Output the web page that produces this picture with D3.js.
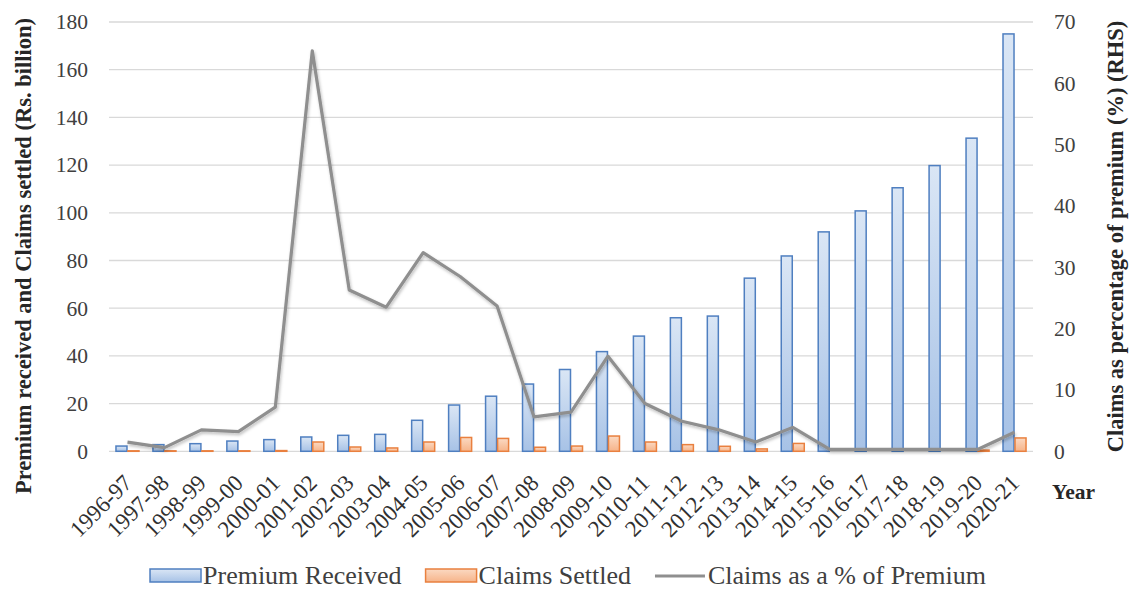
<!DOCTYPE html>
<html>
<head>
<meta charset="utf-8">
<script src="https://cdn.jsdelivr.net/npm/d3@7"></script>
<style>
  html, body { margin: 0; padding: 0; background: #ffffff; }
  svg { display: block; }
</style>
</head>
<body>
<svg id="chart" width="1133" height="591"></svg>
<script>
const years = ['1996-97','1997-98','1998-99','1999-00','2000-01','2001-02','2002-03','2003-04','2004-05','2005-06','2006-07','2007-08','2008-09','2009-10','2010-11','2011-12','2012-13','2013-14','2014-15','2015-16','2016-17','2017-18','2018-19','2019-20','2020-21'];
const premiumReceived = [2.2, 2.8, 3.2, 4.3, 4.9, 6.0, 6.7, 7.1, 13.0, 19.4, 23.1, 28.2, 34.3, 41.8, 48.3, 56.0, 56.7, 72.6, 81.9, 92.0, 100.8, 110.5, 119.8, 131.3, 175.0];
const claimsSettled = [0.2, 0.2, 0.2, 0.2, 0.3, 3.9, 1.8, 1.4, 3.9, 5.8, 5.4, 1.7, 2.2, 6.4, 3.9, 2.8, 2.1, 1.0, 3.3, 0, 0, 0, 0, 0.5, 5.6];
const claimsPct = [1.5, 0.6, 3.5, 3.2, 7.2, 65.3, 26.3, 23.5, 32.4, 28.5, 23.7, 5.6, 6.4, 15.5, 7.8, 4.9, 3.5, 1.5, 3.9, 0.3, 0.3, 0.3, 0.3, 0.3, 3.1];
const leftTicks = [0, 20, 40, 60, 80, 100, 120, 140, 160, 180];
const rightTicks = [0, 10, 20, 30, 40, 50, 60, 70];
const seriesNames = ['Premium Received', 'Claims Settled', 'Claims as a % of Premium'];
const leftTitle = 'Premium received and Claims settled (Rs. billion)';
const rightTitle = 'Claims as percentage of premium (%) (RHS)';
const xTitle = 'Year';

const svg = d3.select('#chart');
const L = 109, R = 1033, T = 22, B = 451.3;
const FONT = '"Liberation Serif", "Times New Roman", serif';

const defs = svg.append('defs');
const gb = defs.append('linearGradient').attr('id','gBlue').attr('x1',0).attr('y1',0).attr('x2',0).attr('y2',1);
gb.append('stop').attr('offset','0%').attr('stop-color','#dae6f5');
gb.append('stop').attr('offset','100%').attr('stop-color','#a7c2e6');
const go = defs.append('linearGradient').attr('id','gOrange').attr('x1',0).attr('y1',0).attr('x2',0).attr('y2',1);
go.append('stop').attr('offset','0%').attr('stop-color','#fbd9c2');
go.append('stop').attr('offset','100%').attr('stop-color','#f6b48a');
const sh = defs.append('filter').attr('id','shadow').attr('x','-10%').attr('y','-10%').attr('width','120%').attr('height','130%');
sh.append('feDropShadow').attr('dx',1).attr('dy',2).attr('stdDeviation',1.5).attr('flood-color','#000').attr('flood-opacity',0.25);

const x = d3.scaleBand().domain(years).range([L, R]).paddingInner(0.35).paddingOuter(0.175);
const xs = d3.scaleBand().domain(['p','c']).range([0, x.bandwidth()]);
const yL = d3.scaleLinear().domain([0, 180]).range([B, T]);
const yR = d3.scaleLinear().domain([0, 70]).range([B, T]);

// gridlines
svg.append('g').selectAll('line').data(leftTicks).join('line')
  .attr('x1', L).attr('x2', R)
  .attr('y1', d => yL(d)).attr('y2', d => yL(d))
  .attr('stroke', '#d9d9d9').attr('stroke-width', 1.3);

// left axis
const axL = svg.append('g').attr('transform', `translate(${L},0)`)
  .call(d3.axisLeft(yL).tickValues(leftTicks).tickSize(0).tickPadding(21));
axL.select('.domain').remove();
axL.selectAll('text').attr('font-family', FONT).attr('font-size', 21.5).attr('fill', '#404040');

// right axis
const axR = svg.append('g').attr('transform', `translate(${R},0)`)
  .call(d3.axisRight(yR).tickValues(rightTicks).tickSize(0).tickPadding(21));
axR.select('.domain').remove();
axR.selectAll('text').attr('font-family', FONT).attr('font-size', 21.5).attr('fill', '#404040');

// x axis labels
const axX = svg.append('g').attr('transform', `translate(0,${B})`)
  .call(d3.axisBottom(x).tickSize(0).tickPadding(0));
axX.select('.domain').remove();
axX.selectAll('text')
  .attr('font-family', FONT).attr('font-size', 23).attr('fill', '#303030')
  .attr('text-anchor', 'end')
  .attr('dy', 0)
  .attr('transform', 'translate(6,33) rotate(-45)');

// bars
const bars = svg.append('g');
bars.selectAll('rect.p').data(years).join('rect').attr('class','p')
  .attr('x', d => x(d) + xs('p') + 0.5)
  .attr('width', xs.bandwidth() - 1)
  .attr('y', (d,i) => yL(premiumReceived[i]))
  .attr('height', (d,i) => yL(0) - yL(premiumReceived[i]))
  .attr('fill', 'url(#gBlue)').attr('stroke', '#4f7fc0').attr('stroke-width', 1.5);
bars.selectAll('rect.c').data(years).join('rect').attr('class','c')
  .attr('x', d => x(d) + xs('c') + 0.5)
  .attr('width', xs.bandwidth() - 1)
  .attr('y', (d,i) => yL(claimsSettled[i]))
  .attr('height', (d,i) => yL(0) - yL(claimsSettled[i]))
  .attr('fill', 'url(#gOrange)').attr('stroke', '#e9803f').attr('stroke-width', 1.5);

// line
const line = d3.line().x((d,i) => x(years[i]) + x.bandwidth()/2).y(d => yR(d));
svg.append('path').datum(claimsPct)
  .attr('d', line).attr('fill', 'none')
  .attr('stroke', '#8f8f8f').attr('stroke-width', 3.2)
  .attr('stroke-linejoin', 'round')
  .attr('filter', 'url(#shadow)');

// axis titles
svg.append('text').attr('transform', `translate(31,${(12+500)/2}) rotate(-90)`)
  .attr('text-anchor','middle').attr('font-family', FONT).attr('font-weight','bold')
  .attr('font-size', 22.5).attr('fill','#262626').text(leftTitle);
svg.append('text').attr('transform', `translate(1123,${(13+460)/2}) rotate(-90)`)
  .attr('text-anchor','middle').attr('font-family', FONT).attr('font-weight','bold')
  .attr('font-size', 22.5).attr('fill','#262626').text(rightTitle);
svg.append('text').attr('x', 1052).attr('y', 499)
  .attr('font-family', FONT).attr('font-weight','bold')
  .attr('font-size', 21.5).attr('fill','#262626').text(xTitle);

// legend
const leg = svg.append('g');
const legY = 575;
let cx = 0;
seriesNames.forEach((name, i) => {
  const g = leg.append('g').attr('transform', `translate(${cx},0)`);
  if (i === 0) {
    g.append('rect').attr('x',0).attr('y',legY-6).attr('width',51).attr('height',13)
      .attr('fill','url(#gBlue)').attr('stroke','#4f7fc0').attr('stroke-width',1.5);
  } else if (i === 1) {
    g.append('rect').attr('x',0).attr('y',legY-6).attr('width',51).attr('height',13)
      .attr('fill','url(#gOrange)').attr('stroke','#e9803f').attr('stroke-width',1.5);
  } else {
    g.append('line').attr('x1',0).attr('x2',50).attr('y1',legY+1).attr('y2',legY+1)
      .attr('stroke','#8f8f8f').attr('stroke-width',3.2);
  }
  const t = g.append('text').attr('x', 53).attr('y', legY).attr('dy','0.35em')
    .attr('font-family', FONT).attr('font-size', 26).attr('fill','#404040').text(name);
  const w = t.node().getComputedTextLength();
  cx += 53 + w + 24;
});
const legW = cx - 24;
leg.attr('transform', `translate(${568 - legW/2},0)`);
</script>
</body>
</html>
